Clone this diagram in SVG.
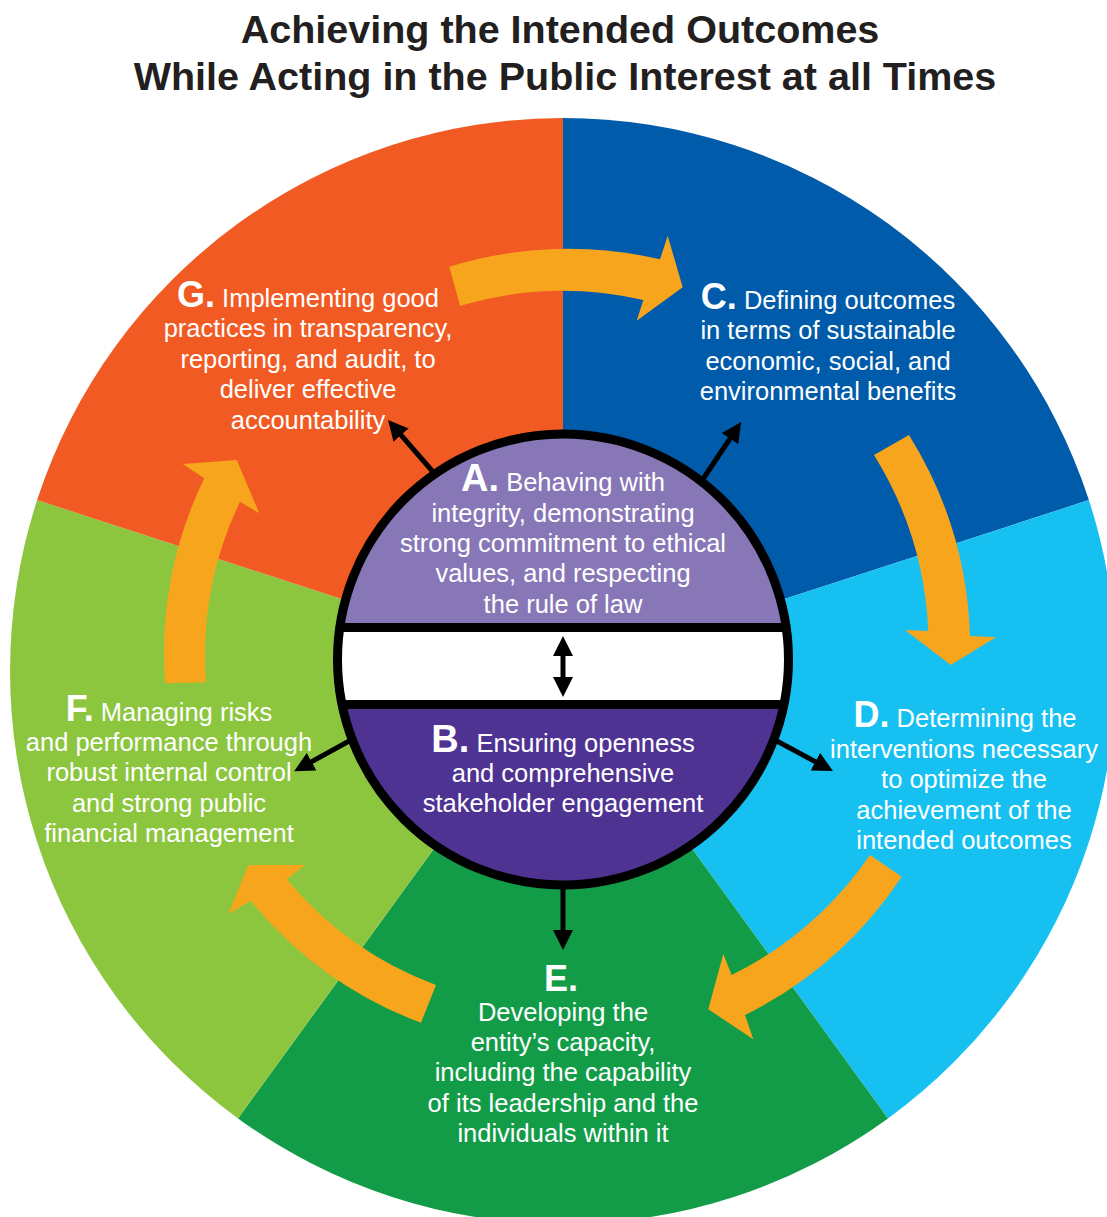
<svg xmlns="http://www.w3.org/2000/svg" width="1107" height="1217" viewBox="0 0 1107 1217">
<style>
.title{font-family:"Liberation Sans",Arial,sans-serif;font-weight:bold;font-size:39.5px;fill:#231F20;text-anchor:middle}
.t{font-family:"Liberation Sans",Arial,sans-serif;font-size:25.5px;fill:#FFFFFF;text-anchor:middle}
.L{font-weight:bold;font-size:36px}
.LB{font-weight:bold;font-size:38px}
.orange{fill:#F7A51C}
.conn{stroke:#000000;stroke-width:5;fill:none;marker-end:url(#ah)}
</style>
<defs>
<marker id="ah" viewBox="0 0 10 10" refX="1" refY="5" markerWidth="4" markerHeight="4" markerUnits="strokeWidth" orient="auto">
<path d="M0,0 L10,5 L0,10 Z" fill="#000000"/>
</marker>
<marker id="dh" viewBox="0 0 10 10" refX="1" refY="5" markerWidth="4" markerHeight="4" markerUnits="strokeWidth" orient="auto-start-reverse">
<path d="M0,0 L10,5 L0,10 Z" fill="#000000"/>
</marker>
<clipPath id="innerClip"><circle cx="563" cy="659.5" r="225.5"/></clipPath>
</defs>
<rect width="1107" height="1217" fill="#FFFFFF"/>
<g id="title">
<text class="title" x="560" y="43">Achieving the Intended Outcomes</text>
<text class="title" x="565" y="90">While Acting in the Public Interest at all Times</text>
</g>
<g id="sector-C">
<path d="M563,671 L563,118 A553,553 0 0 1 1088.9,500.1 Z" fill="#005BAA"/>
</g>
<g id="sector-D">
<path d="M563,671 L1088.9,500.1 A553,553 0 0 1 888,1118.4 Z" fill="#16C1F2"/>
</g>
<g id="sector-E">
<path d="M563,671 L888,1118.4 A553,553 0 0 1 238,1118.4 Z" fill="#139C48"/>
</g>
<g id="sector-F">
<path d="M563,671 L238,1118.4 A553,553 0 0 1 37.1,500.1 Z" fill="#8CC63F"/>
</g>
<g id="sector-G">
<path d="M563,671 L37.1,500.1 A553,553 0 0 1 563,118 Z" fill="#F15A22"/>
</g>
<g id="cycle-arrows">
<path class="orange" d="M449.3,266.7 A404,404 0 0 1 660,259.3 L667.7,235.7 L682.7,287.3 L636.7,320.7 L643.3,300 A364,364 0 0 0 460,305.7 Z"/>
<path class="orange" d="M909,435 A404,404 0 0 1 970,636 L996,637.3 L950.7,665 L905,630 L928.3,631 A364,364 0 0 0 874,455 Z"/>
<path class="orange" d="M901.7,876.7 A404,404 0 0 1 745,1015 L753.3,1039.3 L708.3,1009.3 L723.3,954 L731.7,975 A364,364 0 0 0 870,855 Z"/>
<path class="orange" d="M421,1022.7 A397,397 0 0 1 250.7,900.7 L228.3,914 L248.3,865 L305,865 L286.7,879.3 A356,356 0 0 0 436,985 Z"/>
<path class="orange" d="M165,683.3 A399,399 0 0 1 204.3,478.3 L182.7,464 L236.7,460 L259.3,513.3 L240,501.7 A358,358 0 0 0 206,682.3 Z"/>
</g>
<g id="label-G">
<text class="t" x="308" y="307"><tspan class="L">G.</tspan> Implementing good</text>
<text class="t" x="308" y="337">practices in transparency,</text>
<text class="t" x="308" y="368">reporting, and audit, to</text>
<text class="t" x="308" y="398">deliver effective</text>
<text class="t" x="308" y="429">accountability</text>
</g>
<g id="label-C">
<text class="t" x="828" y="309"><tspan class="L">C.</tspan> Defining outcomes</text>
<text class="t" x="828" y="339">in terms of sustainable</text>
<text class="t" x="828" y="370">economic, social, and</text>
<text class="t" x="828" y="400">environmental benefits</text>
</g>
<g id="label-D">
<text class="t" x="965" y="727"><tspan class="L">D.</tspan> Determining the</text>
<text class="t" x="964" y="758">interventions necessary</text>
<text class="t" x="964" y="788">to optimize the</text>
<text class="t" x="964" y="819">achievement of the</text>
<text class="t" x="964" y="849">intended outcomes</text>
</g>
<g id="label-F">
<text class="t" x="169" y="721"><tspan class="L">F.</tspan> Managing risks</text>
<text class="t" x="169" y="751">and performance through</text>
<text class="t" x="169" y="781">robust internal control</text>
<text class="t" x="169" y="812">and strong public</text>
<text class="t" x="169" y="842">financial management</text>
</g>
<g id="label-E">
<text class="t L" x="561" y="991">E.</text>
<text class="t" x="563" y="1021">Developing the</text>
<text class="t" x="563" y="1051">entity’s capacity,</text>
<text class="t" x="563" y="1081">including the capability</text>
<text class="t" x="563" y="1112">of its leadership and the</text>
<text class="t" x="563" y="1142">individuals within it</text>
</g>
<g id="node-AB">
<g clip-path="url(#innerClip)">
<rect x="330" y="425" width="466" height="203" fill="#8877B7"/>
<rect x="330" y="628" width="466" height="77" fill="#FFFFFF"/>
<rect x="330" y="704" width="466" height="190" fill="#4F3393"/>
<line x1="330" y1="627.5" x2="796" y2="627.5" stroke="#000000" stroke-width="9"/>
<line x1="330" y1="704.5" x2="796" y2="704.5" stroke="#000000" stroke-width="9"/>
</g>
<circle cx="563" cy="659.5" r="225.5" fill="none" stroke="#000000" stroke-width="9"/>
<g id="node-A">
<text class="t" x="563" y="491"><tspan class="LB">A.</tspan> Behaving with</text>
<text class="t" x="563" y="522">integrity, demonstrating</text>
<text class="t" x="563" y="552">strong commitment to ethical</text>
<text class="t" x="563" y="582">values, and respecting</text>
<text class="t" x="563" y="613">the rule of law</text>
</g>
<g id="node-B">
<text class="t" x="563" y="752"><tspan class="LB">B.</tspan> Ensuring openness</text>
<text class="t" x="563" y="782">and comprehensive</text>
<text class="t" x="563" y="812">stakeholder engagement</text>
</g>
</g>
<g id="connectors">
<line class="conn" x1="434" y1="473" x2="399.8" y2="433.6"/>
<line class="conn" x1="703" y1="479" x2="731.1" y2="437"/>
<line class="conn" x1="775" y1="740" x2="817.1" y2="762.6"/>
<line class="conn" x1="351" y1="740" x2="309.9" y2="762.6"/>
<line class="conn" x1="563" y1="885" x2="563" y2="932"/>
<line x1="563" y1="654" x2="563" y2="679" stroke="#000000" stroke-width="5" marker-start="url(#dh)" marker-end="url(#dh)"/>
</g>
</svg>
